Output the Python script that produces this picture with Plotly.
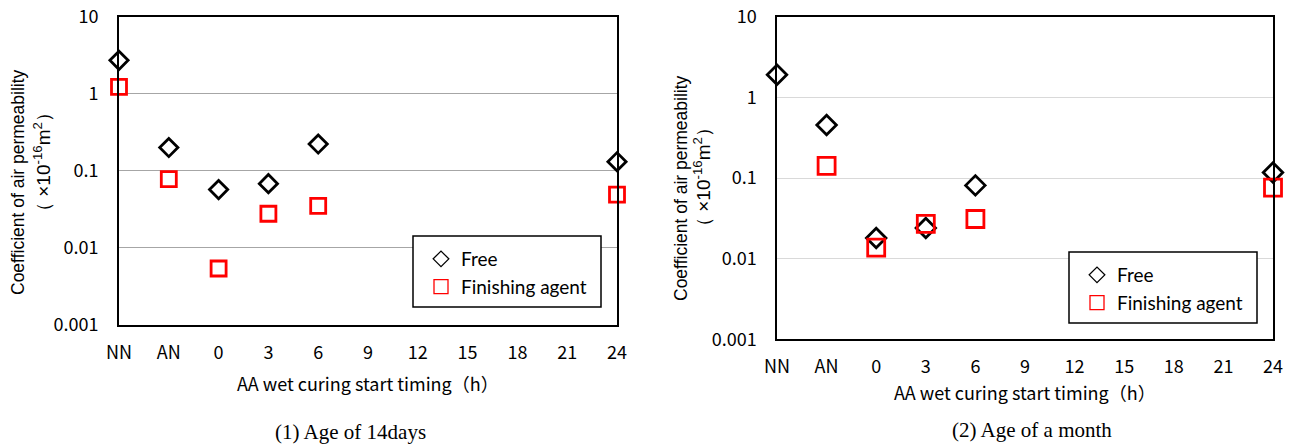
import plotly.graph_objects as go

W, H = 1293, 446

# ---- data ----
x_labels = ["NN", "AN", "0", "3", "6", "9", "12", "15", "18", "21", "24"]
x_tickvals = [-6, -3, 0, 3, 6, 9, 12, 15, 18, 21, 24]
x_points = [-6, -3, 0, 3, 6, 24]

free_14d = [2.7, 0.20, 0.057, 0.068, 0.222, 0.131]
finish_14d = [1.22, 0.078, 0.0054, 0.0277, 0.035, 0.049]

free_1m = [1.91, 0.454, 0.018, 0.024, 0.081, 0.117]
finish_1m = [None, 0.141, 0.0137, 0.027, 0.031, 0.076]

y_tickvals = [0.001, 0.01, 0.1, 1, 10]
y_ticktext = ["0.001", "0.01", "0.1", "1", "10"]

captions = ["(1) Age of 14days", "(2) Age of a month"]
x_title = "AA wet curing start timing（h）"
y_title1 = "Coefficient of air permeability"
y_title2 = "（ ×10<sup>-16</sup>m<sup>2</sup>）"


def px(v):
    return v / W


def py(v):
    return 1 - v / H


fig = go.Figure()

# panel geometry (pixels)
panels = [
    dict(xa="x", ya="y", l=119, r=617, t=16.5, b=325, grid="#a6a6a6", lw=2,
         dsz=14, ssz=15, free=free_14d, fin=finish_14d, legend="legend",
         ylab1=(18, 182), ylab2=(42, 162), xt_y=383, cap=(350, 432),
         box=(413, 236, 601, 307)),
    dict(xa="x2", ya="y2", l=777, r=1273, t=16.7, b=339.3, grid="#d9d9d9", lw=1.5,
         dsz=15, ssz=17, free=free_1m, fin=finish_1m, legend="legend2",
         ylab1=(681, 188), ylab2=(702, 177), xt_y=392, cap=(1032, 430),
         box=(1069, 252, 1257, 323)),
]

for i, p in enumerate(panels):
    fig.add_trace(go.Scatter(
        x=x_points, y=p["free"], xaxis=p["xa"], yaxis=p["ya"], mode="markers",
        marker=dict(symbol="diamond-open", size=p["dsz"], color="black",
                    line=dict(width=2.8, color="black")),
        showlegend=False, cliponaxis=False, name="Free"))
    fig.add_trace(go.Scatter(
        x=x_points, y=p["fin"], xaxis=p["xa"], yaxis=p["ya"], mode="markers",
        marker=dict(symbol="square-open", size=p["ssz"], color="red",
                    line=dict(width=2.8, color="red")),
        showlegend=False, cliponaxis=False, name="Finishing agent"))
    # legend entries
    fig.add_trace(go.Scatter(
        x=[None], y=[None], xaxis=p["xa"], yaxis=p["ya"], mode="markers",
        marker=dict(symbol="diamond-open", size=12, color="black",
                    line=dict(width=1.3, color="black")),
        name="Free", legend=p["legend"], legendgroup="a%d" % i))
    fig.add_trace(go.Scatter(
        x=[None], y=[None], xaxis=p["xa"], yaxis=p["ya"], mode="markers",
        marker=dict(symbol="square-open", size=14, color="red",
                    line=dict(width=1.3, color="red")),
        name="Finishing agent", legend=p["legend"], legendgroup="b%d" % i))

layout = dict(
    width=W, height=H, margin=dict(l=0, r=0, t=0, b=0, pad=0, autoexpand=False),
    paper_bgcolor="white", plot_bgcolor="white", showlegend=True,
)

shapes = []
annotations = []
tickfont = dict(family="Noto Sans CJK JP", size=18, color="black")

for i, p in enumerate(panels):
    sfx = "" if i == 0 else "2"
    layout["xaxis" + sfx] = dict(
        domain=[px(p["l"]), px(p["r"])], anchor=p["ya"], range=[-6, 24],
        tickmode="array", tickvals=x_tickvals, ticktext=x_labels,
        showgrid=False, zeroline=False, showline=True, linecolor="black",
        linewidth=p["lw"], mirror=True, ticks="", tickfont=tickfont,
        ticklabelstandoff=10, automargin=False)
    layout["yaxis" + sfx] = dict(
        domain=[py(p["b"]), py(p["t"])], anchor=p["xa"], type="log",
        range=[-3, 1], tickmode="array", tickvals=y_tickvals, ticktext=y_ticktext,
        showgrid=True, gridcolor=p["grid"], gridwidth=1.3, zeroline=False,
        showline=True, linecolor="black", linewidth=p["lw"], mirror=True,
        ticks="", tickfont=tickfont, ticklabelstandoff=15, automargin=False)
    x0, y0, x1, y1 = p["box"]
    shapes.append(dict(type="rect", xref="paper", yref="paper",
                       x0=px(x0), x1=px(x1), y0=py(y1), y1=py(y0),
                       line=dict(color="black", width=1.5), fillcolor="white",
                       layer="above"))
    layout[p["legend"]] = dict(
        x=px(x0 + 8), y=py(y0 + 4), xanchor="left", yanchor="top",
        bgcolor="rgba(0,0,0,0)", borderwidth=0,
        font=dict(family="Lato", size=19, color="black"),
        tracegroupgap=0)
    annotations += [
        dict(text=y_title1, xref="paper", yref="paper", x=px(p["ylab1"][0]),
             y=py(p["ylab1"][1]), textangle=-90, showarrow=False,
             xanchor="center", yanchor="middle",
             font=dict(family="Liberation Sans", size=17.5, color="black")),
        dict(text=y_title2, xref="paper", yref="paper", x=px(p["ylab2"][0]),
             y=py(p["ylab2"][1]), textangle=-90, showarrow=False,
             xanchor="center", yanchor="middle",
             font=dict(family="Liberation Sans", size=19, color="black")),
        dict(text=x_title, xref="paper", yref="paper",
             x=px((p["l"] + p["r"]) / 2), y=py(p["xt_y"]), showarrow=False,
             xanchor="center", yanchor="middle",
             font=dict(family="Noto Sans CJK JP", size=18, color="black")),
        dict(text=captions[i], xref="paper", yref="paper", x=px(p["cap"][0]),
             y=py(p["cap"][1]), showarrow=False, xanchor="center",
             yanchor="middle",
             font=dict(family="Liberation Serif", size=21, color="black")),
    ]

layout["shapes"] = shapes
layout["annotations"] = annotations
fig.update_layout(**layout)
fig.write_html("out.html", config={"displayModeBar": False},
               post_script="document.body.style.margin='0';"
                           "document.body.style.overflow='hidden';")
